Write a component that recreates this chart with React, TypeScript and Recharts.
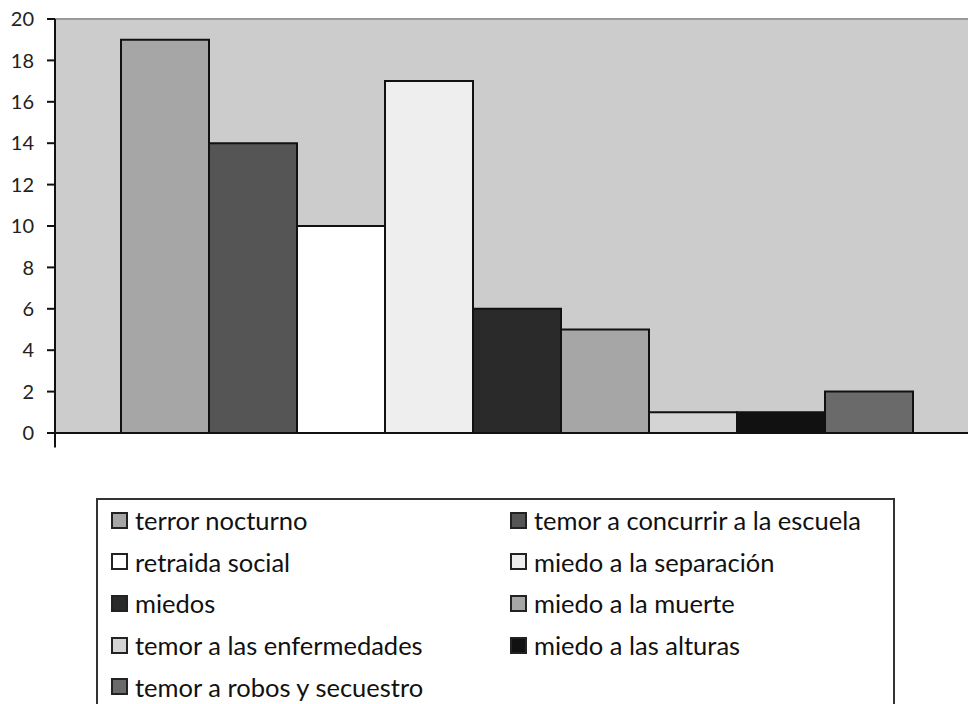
import React from 'react';
import { BarChart, Bar, XAxis, YAxis, CartesianGrid, Legend, ReferenceLine } from 'recharts';

const categories = ['Temores'];
const seriesNames = [
  'terror nocturno',
  'temor a concurrir a la escuela',
  'retraida social',
  'miedo a la separación',
  'miedos',
  'miedo a la muerte',
  'temor a las enfermedades',
  'miedo a las alturas',
  'temor a robos y secuestro',
];
const seriesValues = [19, 14, 10, 17, 6, 5, 1, 1, 2];
const seriesColors = ['#a6a6a6', '#555555', '#ffffff', '#eeeeee', '#2a2a2a', '#a6a6a6', '#d4d4d4', '#111111', '#6a6a6a'];
const yTicks = [0, 2, 4, 6, 8, 10, 12, 14, 16, 18, 20];

const seriesKeys = seriesNames.map((_, i) => `s${i}`);
const data = categories.map((name) => {
  const row: Record<string, string | number> = { name };
  seriesKeys.forEach((k, i) => {
    row[k] = seriesValues[i];
  });
  return row;
});

const FONT = 'Lato, "Open Sans", sans-serif';

const renderLegend = () => (
  <div
    style={{
      position: 'relative',
      width: 799,
      height: 240,
      border: '2px solid #333',
      boxSizing: 'border-box',
      background: '#fff',
      fontFamily: FONT,
      fontSize: 25.5,
      color: '#111',
    }}
  >
    {seriesNames.map((name, i) => {
      const row = Math.floor(i / 2);
      const col = i % 2;
      return (
        <div
          key={name}
          style={{
            position: 'absolute',
            left: col ? 412 : 13,
            top: 20 + row * 41.7 - 16,
            height: 32,
            display: 'flex',
            alignItems: 'center',
            whiteSpace: 'nowrap',
          }}
        >
          <span
            style={{
              display: 'inline-block',
              width: 17,
              height: 17,
              boxSizing: 'border-box',
              border: '2px solid #222',
              background: seriesColors[i],
              marginRight: 7,
            }}
          />
          {name}
        </div>
      );
    })}
  </div>
);

export default function App() {
  return (
    <div style={{ position: 'fixed', left: 0, top: 0, width: 968, height: 704, overflow: 'hidden', background: '#fff' }}>
      <BarChart
        width={990}
        height={704}
        data={data}
        margin={{ top: 19, right: 11, left: 0, bottom: 257 }}
        barCategoryGap={66}
        barGap={0}
      >
        <CartesianGrid fill="#cccccc" horizontal={false} vertical={false} />
        <ReferenceLine y={20} stroke="#999999" strokeWidth={2} />
        <XAxis
          dataKey="name"
          tick={false}
          tickLine={false}
          height={14}
          axisLine={{ stroke: '#111', strokeWidth: 2 }}
        />
        <YAxis
          domain={[0, 20]}
          ticks={yTicks}
          width={55}
          tickSize={8}
          tickMargin={13}
          interval={0}
          axisLine={{ stroke: '#111', strokeWidth: 2 }}
          tickLine={{ stroke: '#111', strokeWidth: 2 }}
          tick={{ fill: '#222', fontSize: 20, fontFamily: FONT }}
        />
        <ReferenceLine
          segment={[
            { x: categories[0], y: 0 },
            { x: categories[0], y: -0.7 },
          ]}
          position="start"
          ifOverflow="visible"
          stroke="#111"
          strokeWidth={2}
        />
        {seriesKeys.map((k, i) => (
          <Bar
            key={k}
            dataKey={k}
            name={seriesNames[i]}
            fill={seriesColors[i]}
            stroke="#111"
            strokeWidth={2}
            isAnimationActive={false}
          />
        ))}
        <Legend
          layout="vertical"
          align="center"
          verticalAlign="middle"
          content={renderLegend}
          wrapperStyle={{ position: 'absolute', left: 96, top: 498, width: 799 }}
        />
      </BarChart>
    </div>
  );
}
